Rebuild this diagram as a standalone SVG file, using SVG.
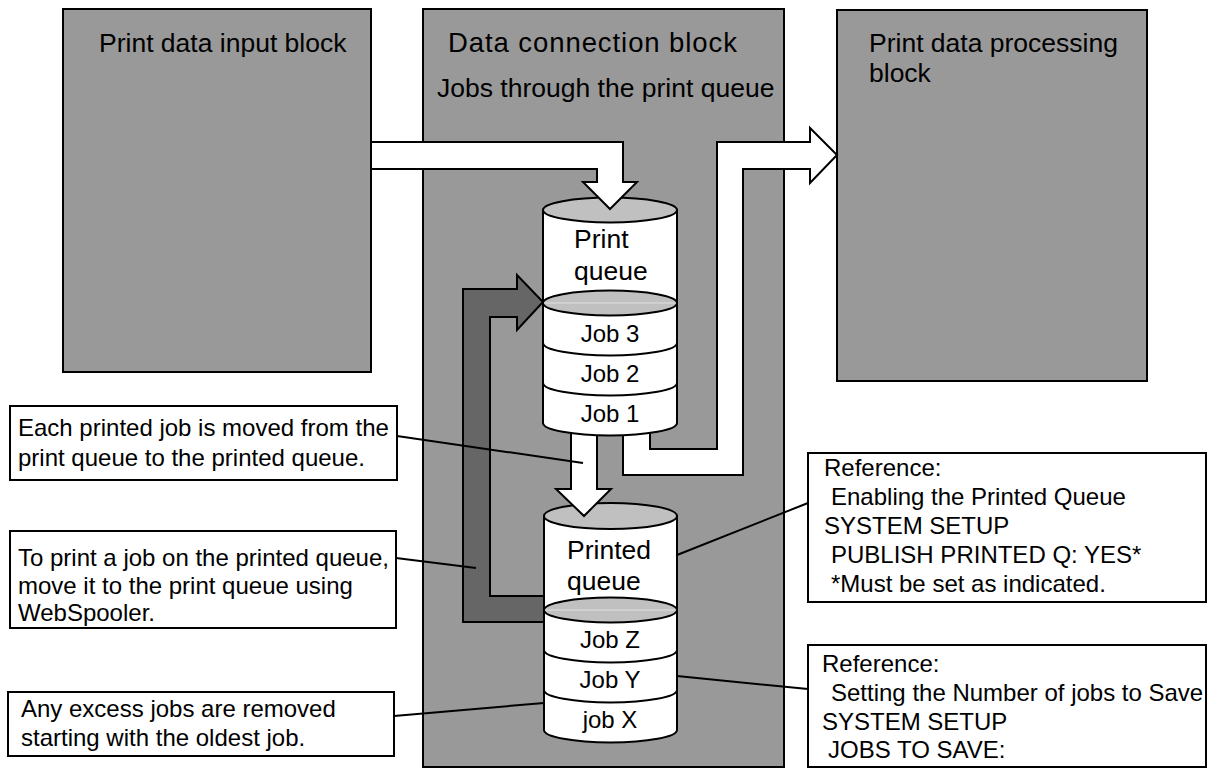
<svg xmlns="http://www.w3.org/2000/svg" width="1208" height="770" viewBox="0 0 1208 770">
<style>
.blk{fill:#999999;stroke:#000;stroke-width:2}
.t{font-family:"Liberation Sans",Arial,sans-serif;fill:#000}
.lbl{font-size:26.5px}
.job{font-size:24px;text-anchor:middle}
.call{font-size:24px}
.box{fill:#fff;stroke:#000;stroke-width:2}
.wa{fill:#fff;stroke:#000;stroke-width:2;stroke-linejoin:miter}
.ga{fill:#666666;stroke:#000;stroke-width:2}
.cyl{fill:#fff;stroke:#000;stroke-width:2}
.lid{fill:#c0c0c0;stroke:#000;stroke-width:2}
.div{fill:none;stroke:#000;stroke-width:2}
.hl{stroke:#e0e0e0;stroke-width:1}
.ln{stroke:#000;stroke-width:2;fill:none}
</style>
<rect width="1208" height="770" fill="#fff"/>
<g id="input-block">
<rect class="blk" x="63" y="9" width="308" height="363"/>
<text class="t lbl" x="99" y="52">Print data input block</text>
</g>
<g id="connection-block">
<rect class="blk" x="423" y="9" width="361" height="758"/>
<text class="t lbl" x="448" y="52" style="font-size:27.5px" textLength="289" lengthAdjust="spacing">Data connection block</text>
<text class="t lbl" x="437" y="97">Jobs through the print queue</text>
</g>
<g id="processing-block">
<rect class="blk" x="837" y="10" width="310" height="371"/>
<text class="t lbl" x="869" y="52">Print data processing</text>
<text class="t lbl" x="869" y="82">block</text>
</g>
<g id="connectors">
<path id="arrow-out" class="wa" d="M623,420 L623,475 L743,475 L743,169 L810,169 L810,183 L837,155 L810,128 L810,142 L717,142 L717,449 L650,449 L650,420 Z"/>
<path id="arrow-return" class="ga" d="M544,622 L463,622 L463,289 L517,289 L517,275 L543,302 L517,330 L517,317 L490,317 L490,596 L544,596"/>
</g>
<g id="printed-queue">
<path class="cyl" d="M544,516 L544,730 A66.5,12.5 0 0 0 677,730 L677,516 Z"/>
<ellipse class="lid" cx="610.5" cy="516" rx="66.5" ry="13"/>
<ellipse class="lid" cx="610.5" cy="610" rx="66.5" ry="12.5"/>
<line class="hl" x1="545" y1="610" x2="676" y2="610"/>
<path class="div" d="M544,650 A66.5,12.5 0 0 0 677,650"/>
<path class="div" d="M544,690 A66.5,12.5 0 0 0 677,690"/>
<text class="t lbl" x="567" y="559">Printed</text>
<text class="t lbl" x="567" y="590">queue</text>
<text class="t job" x="610" y="648">Job Z</text>
<text class="t job" x="610" y="688">Job Y</text>
<text class="t job" x="610" y="728">job X</text>
</g>
<g id="arrow-down-group">
<path id="arrow-down" class="wa" d="M571,425 L571,489 L556,489 L584,516 L611,489 L597,489 L597,425 Z"/>
</g>
<g id="print-queue">
<path class="cyl" d="M543,210 L543,423 A67,12.5 0 0 0 677,423 L677,210 Z"/>
<ellipse class="lid" cx="610" cy="210" rx="67" ry="12.5"/>
<ellipse class="lid" cx="610" cy="303" rx="67" ry="12.5"/>
<line class="hl" x1="544" y1="303" x2="676" y2="303"/>
<path class="div" d="M543,343 A67,12.5 0 0 0 677,343"/>
<path class="div" d="M543,383 A67,12.5 0 0 0 677,383"/>
<text class="t lbl" x="574" y="248">Print</text>
<text class="t lbl" x="574" y="280">queue</text>
<text class="t job" x="610" y="342">Job 3</text>
<text class="t job" x="610" y="382">Job 2</text>
<text class="t job" x="610" y="422">Job 1</text>
</g>
<g id="arrow-in-group">
<path id="arrow-in" class="wa" d="M372,142 L623,142 L623,182 L637,182 L610,209 L583,182 L597,182 L597,169 L372,169"/>
</g>
<g id="callout-lines">
<line class="ln" x1="397" y1="436" x2="583" y2="463"/>
<line class="ln" x1="396" y1="558" x2="476" y2="568"/>
<line class="ln" x1="394" y1="716" x2="544" y2="703"/>
<line class="ln" x1="677" y1="555" x2="808" y2="503"/>
<line class="ln" x1="677" y1="676" x2="808" y2="689"/>
</g>
<g id="note-moved">
<rect class="box" x="10" y="406" width="387" height="74"/>
<text class="t call" x="18" y="436">Each printed job is moved from the</text>
<text class="t call" x="18" y="466">print queue to the printed queue.</text>
</g>
<g id="note-reprint">
<rect class="box" x="10" y="531" width="386" height="97"/>
<text class="t call" x="18" y="566">To print a job on the printed queue,</text>
<text class="t call" x="18" y="594">move it to the print queue using</text>
<text class="t call" x="18" y="621">WebSpooler.</text>
</g>
<g id="note-excess">
<rect class="box" x="8" y="692" width="386" height="64"/>
<text class="t call" x="21" y="717">Any excess jobs are removed</text>
<text class="t call" x="21" y="746">starting with the oldest job.</text>
</g>
<g id="note-enable">
<rect class="box" x="808" y="453" width="398" height="149"/>
<text class="t call" x="824" y="476">Reference:</text>
<text class="t call" x="831" y="505">Enabling the Printed Queue</text>
<text class="t call" x="824" y="534">SYSTEM SETUP</text>
<text class="t call" x="831" y="563">PUBLISH PRINTED Q: YES*</text>
<text class="t call" x="831" y="592">*Must be set as indicated.</text>
</g>
<g id="note-save">
<rect class="box" x="808" y="645" width="398" height="122"/>
<text class="t call" x="822" y="672">Reference:</text>
<text class="t call" x="831" y="701">Setting the Number of jobs to Save</text>
<text class="t call" x="822" y="730">SYSTEM SETUP</text>
<text class="t call" x="828" y="758">JOBS TO SAVE:</text>
</g>
</svg>
